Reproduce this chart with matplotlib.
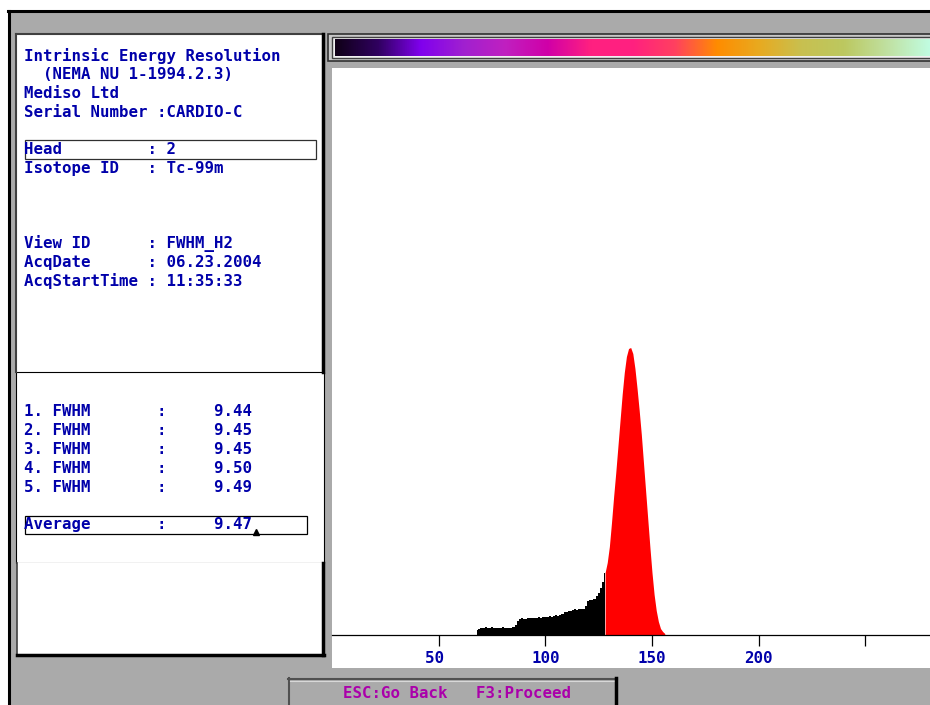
import numpy as np
import matplotlib
matplotlib.use("Agg")
import matplotlib.pyplot as plt
from matplotlib.patches import Rectangle
from matplotlib.colors import LinearSegmentedColormap

# spectrum (1 keV bins, counts in arbitrary units)
energy_keV = np.arange(68, 157)
counts = np.array([5, 6, 7, 7, 8, 7, 7, 8, 7, 7, 7, 7, 8, 7, 7, 7, 7, 8, 10, 14,
                   16, 17, 16, 16, 17, 17, 17, 17, 17, 18, 17, 18, 18, 18, 19, 18, 19, 20, 19, 20,
                   21, 23, 23, 24, 24, 25, 26, 25, 26, 26, 26, 29, 34, 35, 35, 36, 39, 42, 47, 53,
                   62,
                   72, 88, 112, 138, 162, 188, 214, 240, 262, 278, 286, 287, 281, 266, 246, 224, 200, 172, 144, 116,
                   88, 62, 40, 24, 13, 6, 3, 1])
window_start = 128   # energy window (photopeak) lower edge, keV

xticks = [50, 100, 150, 200, 250]
xtick_labels = ["50 ", "100", "150", "200", ""]

header_lines = ["Intrinsic Energy Resolution",
                "  (NEMA NU 1-1994.2.3)",
                "Mediso Ltd",
                "Serial Number :CARDIO-C"]
info_lines = [("Head         : 2", 149),
              ("Isotope ID   : Tc-99m", 168),
              ("View ID      : FWHM_H2", 243),
              ("AcqDate      : 06.23.2004", 262),
              ("AcqStartTime : 11:35:33", 281)]
fwhm_values = [9.44, 9.45, 9.45, 9.50, 9.49]
fwhm_average = 9.47

palette = ["#100018", "#300060", "#8000ee", "#a020d0", "#c020c0", "#d000a8",
           "#ff2080", "#ff2080", "#ff4060", "#ff8c00", "#e8aa20", "#c8c050",
           "#bcc860", "#c0e0a0", "#c0fce0"]

BLUE = "#0000aa"
MAGENTA = "#aa00aa"
GRAY = "#aaaaaa"
FS = 11.3

plt.rcParams["font.family"] = "DejaVu Sans Mono"
plt.rcParams["font.weight"] = "bold"

fig = plt.figure(figsize=(9.3, 7.05), dpi=100)
fig.patch.set_facecolor("white")

# screen background in pixel coordinates
bg = fig.add_axes([0, 0, 1, 1])
bg.set_xlim(0, 930)
bg.set_ylim(705, 0)
bg.axis("off")

bg.add_patch(Rectangle((9, 11), 930, 700, facecolor=GRAY, edgecolor="none"))
bg.plot([8, 930], [11, 11], color="black", lw=2.2)
bg.plot([9, 9], [11, 705], color="black", lw=2.2)

# info panel
bg.add_patch(Rectangle((17, 35), 306, 337, facecolor="white", edgecolor="none"))
bg.plot([16, 16], [34, 372], color="#404040", lw=1.5)
bg.plot([16, 323], [34, 34], color="#404040", lw=1.5)
bg.plot([323, 323], [34, 372], color="black", lw=2.5)

# results panel
bg.add_patch(Rectangle((16, 372), 308, 191, facecolor="white", edgecolor="black", lw=0.8))
# lower empty panel
bg.add_patch(Rectangle((17, 563), 306, 92, facecolor="white", edgecolor="none"))
bg.plot([17, 17], [563, 655], color="#404040", lw=1.2)
bg.plot([17, 324], [655, 655], color="black", lw=2.5)
bg.plot([323, 323], [563, 655], color="black", lw=2.5)

for i, line in enumerate(header_lines):
    bg.text(24, 56 + i * 18.7, line, color=BLUE, fontsize=FS, va="center", ha="left")
for line, y in info_lines:
    bg.text(24, y, line, color=BLUE, fontsize=FS, va="center", ha="left")
bg.add_patch(Rectangle((25, 140), 291, 19, facecolor="none", edgecolor="#303030", lw=0.9))

for i, v in enumerate(fwhm_values):
    bg.text(24, 412 + i * 18.75, f"{i + 1}. FWHM       :     {v:.2f}",
            color=BLUE, fontsize=FS, va="center", ha="left")
bg.text(24, 525, f"Average       :     {fwhm_average:.2f}",
        color=BLUE, fontsize=FS, va="center", ha="left")
bg.add_patch(Rectangle((25, 516), 282, 18, facecolor="none", edgecolor="black", lw=0.9))
bg.plot([256], [532], marker="^", color="black", markersize=4)

# colour scale bar
bg.add_patch(Rectangle((328, 34), 610, 27, facecolor="#c8c8c8", edgecolor="#303030", lw=1.2))
bg.add_patch(Rectangle((332, 37), 610, 21, facecolor="#f0f0f0", edgecolor="#404040", lw=1.0))
cmap = LinearSegmentedColormap.from_list("scale", palette)
gradient = np.linspace(0, 1, 256).reshape(1, -1)
bg.imshow(gradient, aspect="auto", cmap=cmap, extent=[335, 930, 56, 39], zorder=3)
bg.set_xlim(0, 930)
bg.set_ylim(705, 0)

# bottom button
bg.add_patch(Rectangle((288, 678), 329, 40, facecolor=GRAY, edgecolor="none"))
bg.plot([288, 617], [678.5, 678.5], color="#505050", lw=1.5)
bg.plot([288.5, 288.5], [678, 705], color="#505050", lw=1.5)
bg.plot([290, 615], [680.5, 680.5], color="#d8d8d8", lw=0.8)
bg.plot([616, 616], [678, 705], color="black", lw=2.5)
bg.text(343, 693, "ESC:Go Back   F3:Proceed", color=MAGENTA, fontsize=FS,
        va="center", ha="left")

bg.text(929, 658, "[keV]", color=BLUE, fontsize=FS, va="center", ha="right", zorder=5)

# spectrum
ax = fig.add_axes([332 / 930, (705 - 668) / 705, (930 - 332) / 930, 600 / 705])
ax.set_facecolor("white")
ax.set_xlim(-0.2, 280.5)
ax.set_ylim(-33.5, 566.5)
tail = energy_keV <= window_start
peak = energy_keV >= window_start
ax.fill_between(energy_keV[tail], 0, counts[tail], color="black", linewidth=0, step="mid")
ax.fill_between(energy_keV[peak], 0, counts[peak], color="#ff0000", linewidth=0)

for side in ["top", "right", "left"]:
    ax.spines[side].set_visible(False)
ax.spines["bottom"].set_position(("data", 0))
ax.spines["bottom"].set_linewidth(0.9)
ax.spines["bottom"].set_zorder(3)
ax.set_yticks([])
ax.set_xticks(xticks, xtick_labels)
ax.tick_params(axis="x", direction="out", length=8, width=0.9, pad=4,
               labelcolor=BLUE, labelsize=FS)

fig.savefig("out.png", dpi=100)
